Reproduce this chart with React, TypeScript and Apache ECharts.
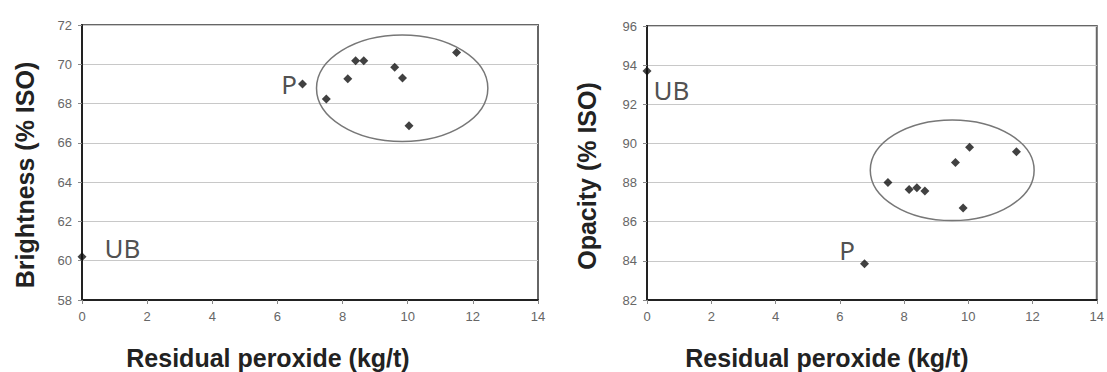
import React, { useEffect, useRef } from "react";
import * as echarts from "echarts";

// Shared residual peroxide values (kg/t)
const peroxide = [0, 6.77, 7.5, 8.16, 8.4, 8.65, 9.6, 9.84, 10.04, 11.5];
// Left chart: brightness (% ISO)
const brightness = [60.2, 69.0, 68.23, 69.27, 70.18, 70.18, 69.85, 69.3, 66.87, 70.6];
// Right chart: opacity (% ISO)
const opacity = [93.7, 83.85, 88.0, 87.65, 87.73, 87.57, 89.03, 86.7, 89.81, 89.57];
// Point tags
const pointTags = ["UB", "P", "", "", "", "", "", "", "", ""];

// Ellipse annotations [cx, cy, rx, ry] in data units
const brightnessEllipse = [9.83, 68.78, 2.63, 2.71];
const opacityEllipse = [9.5, 88.63, 2.55, 2.57];

const xTitle = "Residual peroxide (kg/t)";
const yTitleLeft = "Brightness (% ISO)";
const yTitleRight = "Opacity (% ISO)";

const tagFont = { fontFamily: "Noto Sans", fontSize: 26, color: "#222" };

const leftTagStyle: Record<string, any> = {
  UB: { position: "right", offset: [13, -9] },
  P: { position: "left", offset: [4, 0] },
};
const rightTagStyle: Record<string, any> = {
  UB: { position: "right", offset: [-3, 19] },
  P: { position: "left", offset: [0, -14] },
};

function buildPoints(ys: number[], tagStyle: Record<string, any>) {
  return peroxide.map((x, i) => {
    const tag = pointTags[i];
    if (!tag) return { value: [x, ys[i]] };
    return {
      value: [x, ys[i]],
      label: { show: true, formatter: tag, ...tagFont, ...tagStyle[tag] },
    };
  });
}

const ellipseRender = (params: any, api: any) => {
  const c = api.coord([api.value(0), api.value(1)]);
  const s = api.size([api.value(2), api.value(3)]);
  return {
    type: "ellipse",
    shape: { cx: c[0], cy: c[1], rx: s[0], ry: s[1] },
    style: { fill: "none", stroke: "#777", lineWidth: 1.5 },
  };
};

const tickFont = { fontFamily: "Liberation Sans", fontSize: 13, color: "#666" };

function xAxisCfg(gridIndex: number) {
  return {
    type: "value",
    gridIndex,
    min: 0,
    max: 14,
    interval: 2,
    axisLine: { show: true, onZero: false, lineStyle: { color: "#222", width: 2 } },
    axisTick: { show: true, length: 4, lineStyle: { color: "#888" } },
    axisLabel: { ...tickFont, margin: 10 },
    splitLine: { show: false },
  };
}

function yAxisCfg(gridIndex: number, min: number, max: number) {
  return {
    type: "value",
    gridIndex,
    min,
    max,
    interval: 2,
    axisLine: { show: true, onZero: false, lineStyle: { color: "#222", width: 2 } },
    axisTick: { show: true, length: 4, lineStyle: { color: "#888" } },
    axisLabel: { ...tickFont, margin: 10 },
    splitLine: { show: true, lineStyle: { color: "#c8c8c8", width: 1 } },
  };
}

const titleStyle = {
  fontFamily: "Liberation Sans",
  fontSize: 25,
  fontWeight: "bold",
  fill: "#222",
  align: "center",
  verticalAlign: "middle",
};

export default function App() {
  const ref = useRef<HTMLDivElement>(null);

  useEffect(() => {
    if (!ref.current) return;
    const chart = echarts.init(ref.current, null, { renderer: "svg" });
    chart.setOption({
      animation: false,
      backgroundColor: "#fff",
      grid: [
        { left: 82, top: 25, width: 456, height: 275, show: true, borderColor: "#666", borderWidth: 2 },
        { left: 647, top: 26, width: 453, height: 274, show: true, borderColor: "#666", borderWidth: 2 },
      ],
      xAxis: [xAxisCfg(0), xAxisCfg(1)],
      yAxis: [yAxisCfg(0, 58, 72), yAxisCfg(1, 82, 96)],
      series: [
        {
          type: "custom",
          xAxisIndex: 0,
          yAxisIndex: 0,
          silent: true,
          renderItem: ellipseRender,
          data: [brightnessEllipse],
        },
        {
          type: "custom",
          xAxisIndex: 1,
          yAxisIndex: 1,
          silent: true,
          renderItem: ellipseRender,
          data: [opacityEllipse],
        },
        {
          type: "scatter",
          xAxisIndex: 0,
          yAxisIndex: 0,
          symbol: "diamond",
          symbolSize: 9,
          itemStyle: { color: "#111" },
          data: buildPoints(brightness, leftTagStyle),
        },
        {
          type: "scatter",
          xAxisIndex: 1,
          yAxisIndex: 1,
          symbol: "diamond",
          symbolSize: 9,
          itemStyle: { color: "#111" },
          data: buildPoints(opacity, rightTagStyle),
        },
      ],
      graphic: [
        { type: "text", x: 268, y: 358, style: { text: xTitle, ...titleStyle } },
        { type: "text", x: 827, y: 358, style: { text: xTitle, ...titleStyle } },
        { type: "text", x: 25, y: 175, rotation: Math.PI / 2, style: { text: yTitleLeft, ...titleStyle } },
        { type: "text", x: 587, y: 176, rotation: Math.PI / 2, style: { text: yTitleRight, ...titleStyle } },
      ],
    });
    return () => chart.dispose();
  }, []);

  return (
    <div
      ref={ref}
      style={{ position: "fixed", left: 0, top: 0, width: 1107, height: 372, background: "#fff" }}
    />
  );
}
